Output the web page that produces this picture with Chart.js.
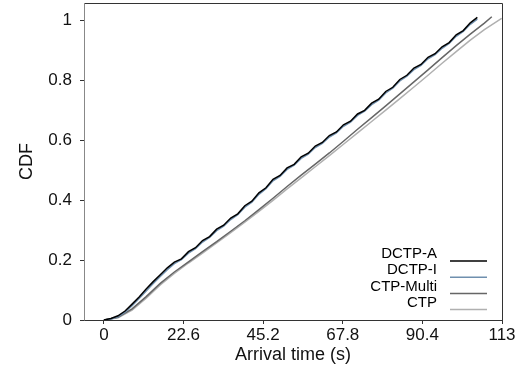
<!DOCTYPE html>
<html>
<head>
<meta charset="utf-8">
<script src="https://cdn.jsdelivr.net/npm/chart.js@4"></script>
<style>
  html, body { margin: 0; padding: 0; background: #fff; }
  #wrap { width: 521px; height: 372px; }
</style>
</head>
<body>
<div id="wrap"><canvas id="cdf"></canvas></div>
<script>
// tick labels
const xTicks = [0, 22.6, 45.2, 67.8, 90.4, 113];
const yTicks = [0, 0.2, 0.4, 0.6, 0.8, 1];

// series names / colours
const seriesNames = ['DCTP-A', 'DCTP-I', 'CTP-Multi', 'CTP'];
const seriesColors = ['#000000', '#6f8fae', '#666666', '#b0b0b0'];

// arrival times (s) for the two DCTP curves
const dctpX = [0, 2, 4, 6, 8, 10, 12, 14, 16, 18,
  20, 22, 24, 26, 28, 30, 32, 34, 36, 38, 40, 42, 44, 46, 48, 50,
  52, 54, 56, 58, 60, 62, 64, 66, 68, 70, 72, 74, 76, 78, 80, 82,
  84, 86, 88, 90, 92, 94, 96, 98, 100, 102, 104, 106];

const dctpAY = [0, 0.005, 0.014, 0.03, 0.053, 0.077, 0.103, 0.128, 0.151, 0.174,
  0.193, 0.204, 0.228, 0.241, 0.265, 0.278, 0.303, 0.316, 0.340, 0.354, 0.381, 0.396,
  0.424, 0.441, 0.469, 0.482, 0.507, 0.519, 0.544, 0.556, 0.580, 0.592, 0.615, 0.627,
  0.651, 0.663, 0.687, 0.699, 0.723, 0.736, 0.762, 0.776, 0.802, 0.816, 0.840, 0.852,
  0.876, 0.888, 0.911, 0.925, 0.951, 0.965, 0.991, 1.009];

const dctpIY = [0, 0.003, 0.011, 0.026, 0.048, 0.072, 0.097, 0.122, 0.145, 0.168,
  0.188, 0.201, 0.223, 0.238, 0.260, 0.275, 0.298, 0.313, 0.335, 0.351, 0.376, 0.393,
  0.419, 0.438, 0.464, 0.479, 0.502, 0.516, 0.539, 0.553, 0.575, 0.589, 0.610, 0.624,
  0.646, 0.660, 0.682, 0.696, 0.718, 0.733, 0.757, 0.773, 0.797, 0.813, 0.835, 0.849,
  0.871, 0.885, 0.906, 0.922, 0.946, 0.962, 0.986, 1.003];

// CTP-Multi
const multiX = [0, 4, 8, 12, 16, 20, 24, 28, 32, 36, 40, 44, 48, 52, 56, 60,
  64, 68, 72, 76, 80, 84, 88, 92, 96, 100, 104, 108, 110.1];
const multiY = [0, 0.009, 0.037, 0.078, 0.122, 0.16, 0.194, 0.228, 0.261, 0.296,
  0.331, 0.368, 0.406, 0.445, 0.483, 0.52, 0.557, 0.596, 0.636, 0.675, 0.714,
  0.754, 0.794, 0.834, 0.875, 0.915, 0.953, 0.99, 1.011];

// CTP
const ctpX = [0, 4, 8, 12, 16, 20, 24, 28, 32, 36, 40, 44, 48, 52, 56, 60,
  64, 68, 72, 76, 80, 84, 88, 92, 96, 100, 104, 108, 112.9];
const ctpY = [0, 0.007, 0.033, 0.073, 0.117, 0.155, 0.19, 0.223, 0.257, 0.291,
  0.326, 0.362, 0.399, 0.437, 0.474, 0.511, 0.548, 0.586, 0.624, 0.662, 0.700,
  0.738, 0.777, 0.816, 0.856, 0.895, 0.933, 0.968, 1.006];

const FONT = '"Liberation Sans", Arial, sans-serif';

function pts(xs, ys) {
  return xs.map((x, i) => ({ x: x, y: ys[i] }));
}

const seriesData = [
  pts(dctpX, dctpAY),
  pts(dctpX, dctpIY),
  pts(multiX, multiY),
  pts(ctpX, ctpY)
];

// box round the plot area (top/right dark, left axis grey)
const frame = {
  id: 'frame',
  afterDraw(chart) {
    const a = chart.chartArea, c = chart.ctx;
    c.save();
    c.lineWidth = 1;
    c.strokeStyle = '#333';
    c.beginPath();
    c.moveTo(a.left, a.top + 0.5);
    c.lineTo(a.right + 0.5, a.top + 0.5);
    c.lineTo(a.right + 0.5, a.bottom + 0.5);
    c.lineTo(a.left, a.bottom + 0.5);
    c.stroke();
    c.strokeStyle = '#888';
    c.beginPath();
    c.moveTo(a.left + 0.5, a.top);
    c.lineTo(a.left + 0.5, a.bottom + 0.5);
    c.stroke();
    c.restore();
  }
};

// legend: label on the left, line sample on the right
const sideLegend = {
  id: 'sideLegend',
  afterDraw(chart) {
    const c = chart.ctx;
    c.save();
    c.font = '15px ' + FONT;
    c.textAlign = 'right';
    c.textBaseline = 'middle';
    chart.data.datasets.forEach((ds, i) => {
      const ly = 261 + i * 16.2;
      c.fillStyle = '#000';
      c.fillText(ds.label, 437, ly - 7);
      c.strokeStyle = ds.borderColor;
      c.lineWidth = 1.5;
      c.beginPath();
      c.moveTo(450, ly);
      c.lineTo(487, ly);
      c.stroke();
    });
    c.restore();
  }
};

new Chart(document.getElementById('cdf'), {
  type: 'scatter',
  data: {
    datasets: seriesNames.map((name, i) => ({
      label: name,
      data: seriesData[i],
      showLine: true,
      borderColor: seriesColors[i],
      backgroundColor: seriesColors[i],
      borderWidth: 1.5,
      pointRadius: 0,
      tension: 0
    }))
  },
  options: {
    responsive: true,
    maintainAspectRatio: false,
    animation: false,
    layout: { padding: { top: 3, right: 19, left: 0, bottom: 0 } },
    plugins: {
      legend: { display: false },
      tooltip: { enabled: false }
    },
    scales: {
      x: {
        type: 'linear',
        min: -5.65,
        max: 113,
        afterBuildTicks: s => { s.ticks = xTicks.map(v => ({ value: v })); },
        afterFit: s => { s.height = 52; s.paddingLeft = 0; s.paddingRight = 0; },
        grid: { drawOnChartArea: false, drawTicks: true, tickLength: 4, tickColor: '#333' },
        border: { display: false },
        ticks: {
          color: '#111',
          padding: 1,
          maxRotation: 0,
          font: { family: FONT, size: 17 },
          callback: v => String(v)
        },
        title: {
          display: true,
          text: 'Arrival time (s)',
          color: '#111',
          padding: { top: 0, bottom: 6 },
          font: { family: FONT, size: 18 }
        }
      },
      y: {
        type: 'linear',
        min: 0,
        max: 1.057,
        afterBuildTicks: s => { s.ticks = yTicks.map(v => ({ value: v })); },
        afterFit: s => { s.width = 84; s.paddingTop = 0; s.paddingBottom = 0; },
        grid: { drawOnChartArea: false, drawTicks: true, tickLength: 4, tickColor: '#333' },
        border: { display: false },
        ticks: {
          color: '#111',
          padding: 8,
          font: { family: FONT, size: 17 },
          callback: v => String(v)
        },
        title: {
          display: true,
          text: 'CDF',
          color: '#111',
          padding: { top: 16, bottom: 0 },
          font: { family: FONT, size: 18 }
        }
      }
    }
  },
  plugins: [frame, sideLegend]
});
</script>
</body>
</html>
